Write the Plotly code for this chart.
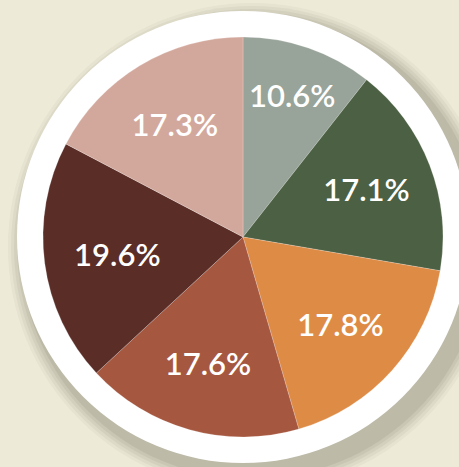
'''
Pie chart of six shares, drawn on a white disc over a beige backdrop.
'''

import plotly.graph_objects as go


labels = ['A', 'B', 'C', 'D', 'E', 'F']
shares = [10.6, 17.1, 17.8, 17.6, 19.6, 17.3]
colors = ['#98a39a', '#4c6043', '#de8b46', '#a6573f', '#5a2d27', '#d3a89c']

W, H = 459, 467
CX, CY = 243, 237      # pie centre, pixels from top-left
R_PIE = 200
R_RING = 226


def px_circle(cx, cy, r):
    # paper coords for a circle given in pixels (y from top)
    return dict(
        x0 = (cx - r) / W, x1 = (cx + r) / W,
        y0 = (H - cy - r) / H, y1 = (H - cy + r) / H
    )


fig = go.Figure()
fig.add_trace(go.Pie(
    labels = labels,
    values = shares,
    sort = False,
    direction = 'clockwise',
    rotation = 0,
    marker = dict(colors=colors, line=dict(color='rgba(255,255,255,0.35)', width=0.6)),
    texttemplate = '%{value:.1f}%',
    textposition = 'inside',
    insidetextorientation = 'horizontal',
    textfont = dict(family='Lato', size=31, color='white', weight=600),
    hoverinfo = 'label+value',
    showlegend = False,
    domain = dict(
        x = [(CX - R_PIE) / W, (CX + R_PIE) / W],
        y = [(H - CY - R_PIE) / H, (H - CY + R_PIE) / H]
    )
))

shapes = []
# soft shadow under the disc, offset down/right
for i, op in enumerate([0.05, 0.06, 0.07, 0.08, 0.1]):
    grow = 18 - i * 3
    shapes.append(dict(
        type='circle', xref='paper', yref='paper', layer='below',
        fillcolor=f'rgba(90,90,70,{op})', line=dict(width=0),
        **px_circle(CX + 9, CY + 10, R_RING + grow)
    ))
# white ring
shapes.append(dict(
    type='circle', xref='paper', yref='paper', layer='below',
    fillcolor='white', line=dict(width=0),
    **px_circle(CX, CY, R_RING)
))

fig.update_layout(
    width = W,
    height = H,
    margin = dict(l=0, r=0, t=0, b=0),
    paper_bgcolor = '#eeead8',
    plot_bgcolor = '#eeead8',
    shapes = shapes
)
fig.write_html(
    'out.html',
    config = {'displayModeBar': False},
    post_script = "document.body.style.margin='0';"
)
